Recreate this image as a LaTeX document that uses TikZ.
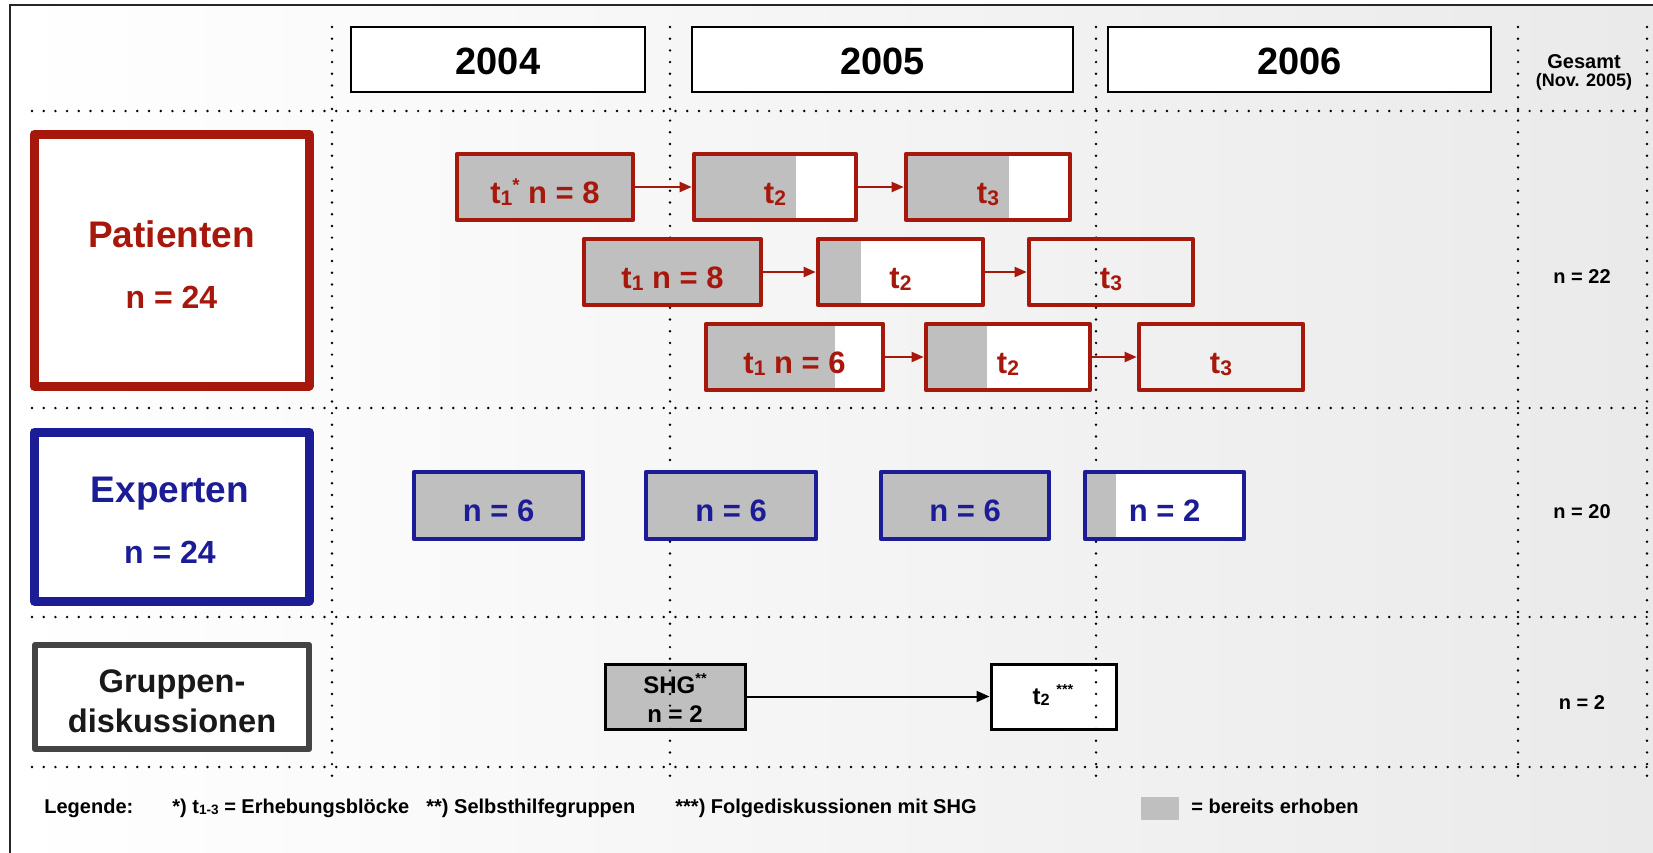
\documentclass[tikz,border=0pt]{standalone}
\usepackage{fontspec}
\usepackage{graphicx}
\setmainfont{Liberation Sans}
\usetikzlibrary{arrows.meta,calc}
\definecolor{pred}{RGB}{166,24,12}
\definecolor{pblue}{RGB}{28,28,150}
\definecolor{fgray}{RGB}{191,191,191}
\definecolor{ggray}{RGB}{68,68,68}
\definecolor{tblack}{RGB}{25,25,25}
\newcommand\lo[1]{\raisebox{-0.08em}{\scalebox{0.68}{#1}}}
\newcommand\st[1]{\raisebox{0.38em}{\scalebox{0.6}{#1}}}
\tikzset{
  dotline/.style={line width=1.35pt, black, dash pattern=on 0pt off 5.85pt, line cap=round},
  yearbox/.style={draw=black, fill=white, line width=1.25pt, inner sep=0pt},
  yeartext/.style={anchor=base, font=\bfseries\fontsize{19}{22}\selectfont},
  catbox/.style={draw=#1, fill=white, line width=4.5pt, inner sep=0pt, line join=round},
  cattext/.style={anchor=base, font=\bfseries\fontsize{18.5}{22}\selectfont},
  catsub/.style={anchor=base, font=\bfseries\fontsize{16}{19}\selectfont},
  rowtext/.style={anchor=base, inner sep=0pt, font=\bfseries\fontsize{15.5}{18}\selectfont},
  rarrow/.style={draw=pred, line width=1pt, -{Triangle[length=6pt,width=5pt]}},
  karrow/.style={draw=black, line width=1pt, -{Triangle[length=6.5pt,width=5.5pt]}},
  gbox/.style={draw=black, line width=1.5pt, inner sep=0pt},
  gtext/.style={anchor=base, inner sep=0pt, font=\bfseries\fontsize{12}{14}\selectfont},
  tottext/.style={anchor=base, font=\bfseries\fontsize{10}{12}\selectfont},
  legtext/.style={anchor=base west, inner sep=0pt, font=\bfseries\fontsize{10}{12}\selectfont},
}
% #1 name, #2 x1, #3 y1, #4 x2, #5 y2, #6 gray end, #7 colour, #8 fill, #9 text
\newcommand\rowbox[9]{%
  \path[fill=#8] (#2,#3) rectangle (#4,#5);
  \path[fill=fgray] (#2,#3) rectangle (#6,#5);
  \node[draw=#7, line width=2.3pt, line join=round, inner sep=0pt,
        minimum width={(#4-#2)*0.5pt}, minimum height={(#5-#3)*0.5pt}]
        (#1) at ({(#2+#4)/2},{(#3+#5)/2}) {};
  \node[rowtext, text=#7] at ({(#2+#4)/2},{#3+49}) {#9};
}
\begin{document}
\begin{tikzpicture}[x=0.5pt,y=-0.5pt]
\useasboundingbox (0,0) rectangle (1653,852);
\begin{scope}
  \clip (0,0) rectangle (1653,852);
  \shade[left color=white, right color=gray!17] (10,5) rectangle (1700,900);
  \draw[line width=1pt, black!85] (10,5) rectangle (1700,900);
\end{scope}

% group discussion boxes (below the dotted grid)
\node[gbox, fill=fgray, minimum width=70pt, minimum height=32.5pt] (shg) at (675,696.5) {};
\node[gtext] at (675,693) {SHG\st{**}};
\node[gtext] at (675,722) {n = 2};
\node[gbox, fill=white, minimum width=62.5pt, minimum height=32.5pt] (gt2) at (1053.5,696.5) {};
\node[gtext] at (1053,704) {t\lo{2} \st{***}};
\draw[karrow] (shg.east) -- (gt2.west);

% dotted grid
\foreach \y in {111,408,617,767} \draw[dotline] (32,\y) -- (1647,\y);
\foreach \x in {332,670,1096,1518,1647} \draw[dotline] (\x,27) -- (\x,785);

% year headers
\node[yearbox, minimum width=147pt, minimum height=32.5pt] (y4) at (498,59.5) {};
\node[yeartext] at (498,74) {2004};
\node[yearbox, minimum width=190.5pt, minimum height=32.5pt] (y5) at (882.5,59.5) {};
\node[yeartext] at (882.5,74) {2005};
\node[yearbox, minimum width=191.5pt, minimum height=32.5pt] (y6) at (1299.5,59.5) {};
\node[yeartext] at (1299.5,74) {2006};
\node[anchor=base, font=\bfseries\fontsize{10}{12}\selectfont] (ges) at (1584,68) {Gesamt};
\node[anchor=base, font=\bfseries\fontsize{9}{11}\selectfont] (nov) at (1584,86) {(Nov. 2005)};

% category boxes
\node[catbox=pred, minimum width=137.5pt, minimum height=126pt] (pat) at (171.5,260) {};
\node[cattext, text=pred] at (171.5,247) {Patienten};
\node[catsub, text=pred] at (171.5,308) {n = 24};
\node[catbox=pblue, minimum width=137.5pt, minimum height=84.5pt] (exp) at (171.5,516.5) {};
\node[cattext, text=pblue] at (170,502) {Experten};
\node[catsub, text=pblue] at (170,563) {n = 24};
\node[catbox=ggray, line width=3.25pt, minimum width=137pt, minimum height=52pt] (grp) at (172,697) {};
\node[catsub, text=tblack, font=\bfseries\fontsize{16.3}{19}\selectfont] at (172,692) {Gruppen-};
\node[catsub, text=tblack, font=\bfseries\fontsize{16.3}{19}\selectfont] at (172,732) {diskussionen};

% patient rows
\rowbox{p11}{457}{154}{633}{220}{633}{pred}{white}{t\lo{1}\st{*} n = 8}
\rowbox{p12}{694}{154}{856}{220}{796}{pred}{white}{t\lo{2}}
\rowbox{p13}{906}{154}{1070}{220}{1009}{pred}{white}{t\lo{3}}
\rowbox{p21}{584}{239}{761}{305}{761}{pred}{white}{t\lo{1} n = 8}
\rowbox{p22}{818}{239}{983}{305}{861}{pred}{white}{t\lo{2}}
\rowbox{p31}{706}{324}{883}{390}{835}{pred}{white}{t\lo{1} n = 6}
\rowbox{p32}{926}{324}{1090}{390}{987}{pred}{white}{t\lo{2}}
\draw[rarrow] (p11.east) -- (p12.west);
\draw[rarrow] (p12.east) -- (p13.west);
\draw[rarrow] (p21.east) -- (p22.west);
\draw[rarrow] (p31.east) -- (p32.west);
% transparent boxes with dotted line visible
\node[draw=pred, line width=2.3pt, line join=round, inner sep=0pt, minimum width=82pt, minimum height=33pt] (p23) at (1111,272) {};
\node[rowtext, text=pred] at (1111,288) {t\lo{3}};
\node[draw=pred, line width=2.3pt, line join=round, inner sep=0pt, minimum width=82pt, minimum height=33pt] (p33) at (1221,357) {};
\node[rowtext, text=pred] at (1221,373) {t\lo{3}};
\draw[rarrow] (p22.east) -- (p23.west);
\draw[rarrow] (p32.east) -- (p33.west);

% expert row
\rowbox{e1}{414}{472}{583}{539}{583}{pblue}{white}{n = 6}
\rowbox{e2}{646}{472}{816}{539}{816}{pblue}{white}{n = 6}
\rowbox{e3}{881}{472}{1049}{539}{1049}{pblue}{white}{n = 6}
\rowbox{e4}{1085}{472}{1244}{539}{1116}{pblue}{white}{n = 2}

% totals
\node[tottext] (tp) at (1582,283) {n = 22};
\node[tottext] (te) at (1582,518) {n = 20};
\node[tottext] (tg) at (1582,709) {n = 2};

% legend
\node[legtext] (l1) at (44,813) {Legende:};
\node[legtext] (l2) at (172,813) {*) t\lo{1-3} = Erhebungsblöcke};
\node[legtext] (l3) at (426,813) {**) Selbsthilfegruppen};
\node[legtext] (l4) at (675,813) {***) Folgediskussionen mit SHG};
\node[fill=fgray, inner sep=0pt, minimum width=19pt, minimum height=11.5pt] (sw) at (1160,808.5) {};
\node[legtext] (l5) at (1191,813) {= bereits erhoben};
\end{tikzpicture}
\end{document}
